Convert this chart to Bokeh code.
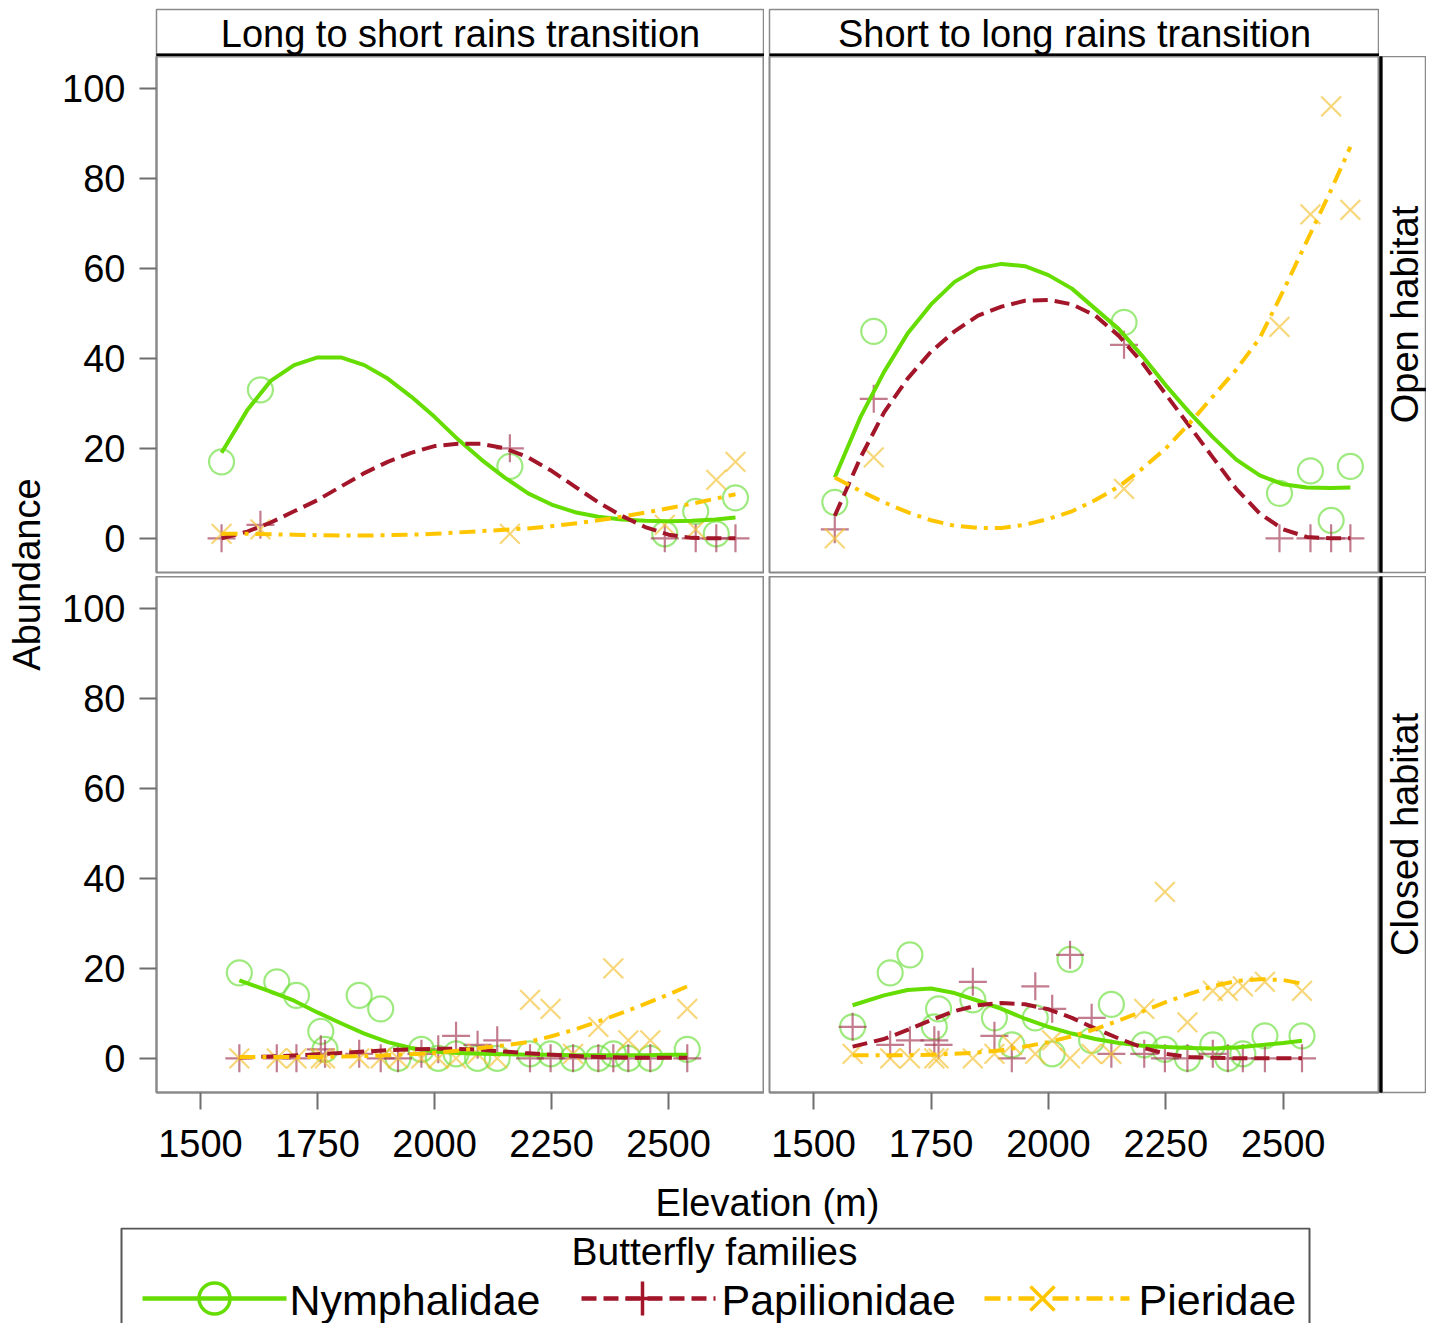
import math
from bokeh.plotting import figure
from bokeh.layouts import row, column
from bokeh.models import Range1d, FixedTicker, Label
from bokeh.embed import file_html
from bokeh.resources import INLINE

FONT = "Liberation Sans"

# ---------------- data ----------------
seasons = ["Long to short rains transition", "Short to long rains transition"]
habitats = ["Open habitat", "Closed habitat"]
families = ["Nymphalidae", "Papilionidae", "Pieridae"]
x_ticks = [1500, 1750, 2000, 2250, 2500]
y_ticks = [0, 20, 40, 60, 80, 100]

# sampling sites (elevation, m)
open_elev = [1545, 1628, 2161, 2492, 2558, 2602, 2643]
closed_elev = [1583, 1663, 1705, 1757, 1766, 1839, 1885, 1922, 1972, 2008, 2046,
               2092, 2134, 2204, 2248, 2296, 2350, 2382, 2414, 2461, 2540]

# observed abundances: open habitat
nym_open_ls = [17, 33, 16, 1, 6, 1, 9]
pap_open_ls = [0, 3, 20, 0, 0, 0, 0]
pie_open_ls = [1, 2, 1, 3, 2, 13, 17]
nym_open_sl = [8, 46, 48, 10, 15, 4, 16]
pap_open_sl = [2, 31, 43, 0, 0, 0, 0]
pie_open_sl = [0, 18, 11, 47, 72, 96, 73]

# observed abundances: closed habitat
nym_closed_ls = [19, 17, 14, 6, 2, 14, 11, 0, 2, 0, 1, 0, 0, 1, 1, 0, 0, 1, 0, 0, 2]
pap_closed_ls = [0, 0, 0, 2, 1, 1, 0, 0, 1, 2, 5, 3, 4, 0, 0, 0, 0, 0, 0, 0, 0]
pie_closed_ls = [0, 0, 0, 0, 0, 0, 0, 0, 0, 0, 0, 1, 0, 13, 11, 1, 7, 20, 4, 4, 11]
nym_closed_sl = [7, 19, 23, 7, 11, 13, 9, 3, 9, 1, 22, 4, 12, 3, 2, 0, 3, 0, 1, 5, 5]
pap_closed_sl = [7, 3, 4, 4, 3, 17, 5, 0, 16, 11, 23, 9, 1, 1, 0, 0, 1, 0, 0, 0, 0]
pie_closed_sl = [1, 0, 0, 0, 0, 0, 1, 3, 1, 4, 0, 1, 1, 11, 37, 8, 15, 15, 16, 17, 15]

# fitted curves
fit_open_x = [1545, 1600, 1650, 1700, 1750, 1800, 1850, 1900, 1950, 2000, 2050, 2100,
              2150, 2200, 2250, 2300, 2350, 2400, 2450, 2500, 2550, 2600, 2643]
nym_fit_open_ls = [19, 28.5, 35, 38.5, 40.2, 40.2, 38.5, 35.5, 31.5, 27, 22, 17.5,
                   13.5, 10, 7.5, 5.8, 4.8, 4.2, 3.9, 3.8, 3.9, 4.2, 4.6]
pap_fit_open_ls = [0, 1.5, 3.5, 6, 8.5, 11.5, 14.5, 17, 19, 20.5, 21, 21,
                   20, 18, 15, 11.5, 8, 5, 2.5, 0.8, 0.1, 0, 0]
pie_fit_open_ls = [1, 1, 0.9, 0.8, 0.7, 0.6, 0.6, 0.7, 0.8, 1, 1.3, 1.6,
                   1.9, 2.2, 2.7, 3.3, 4.0, 4.8, 5.7, 6.7, 7.7, 8.8, 9.8]
nym_fit_open_sl = [13.5, 27, 37, 45.5, 52, 57, 60, 61, 60.5, 58.5, 55.5, 51,
                   46.5, 40.5, 34, 28, 22.5, 17.5, 14, 12, 11.3, 11.2, 11.3]
pap_fit_open_sl = [5, 18, 28, 35.5, 41.5, 46, 49.5, 51.5, 52.8, 53, 52, 49.5,
                   45, 39, 32, 25, 18, 11, 5.5, 2, 0.3, 0, 0]
pie_fit_open_sl = [13.5, 10.5, 8, 5.8, 4, 2.8, 2.3, 2.3, 3, 4.3, 6, 8.5,
                   11.5, 15.5, 20, 25.5, 31.5, 37.5, 44.5, 55, 66, 77, 87]

fit_closed_x = [1583, 1650, 1700, 1750, 1800, 1850, 1900, 1950, 2000, 2050,
                2100, 2150, 2200, 2250, 2300, 2350, 2400, 2450, 2500, 2540]
nym_fit_closed_ls = [17.3, 14.8, 12.8, 10.2, 7.8, 5.5, 3.6, 2.3, 1.5, 1.2,
                     1, 0.9, 0.8, 0.8, 0.7, 0.7, 0.7, 0.7, 0.8, 0.8]
pap_fit_closed_ls = [0.2, 0.4, 0.6, 0.9, 1.2, 1.5, 1.8, 2, 2.1, 2.1,
                     1.9, 1.5, 1.1, 0.8, 0.5, 0.3, 0.2, 0.1, 0.1, 0.1]
pie_fit_closed_ls = [0.3, 0.3, 0.3, 0.3, 0.4, 0.5, 0.7, 0.9, 1.2, 1.7,
                     2.3, 2.9, 3.6, 4.9, 6.4, 8.2, 10.1, 12.1, 14.2, 16]
nym_fit_closed_sl = [11.8, 14, 15.2, 15.5, 14.5, 12.8, 11, 8.8, 7, 5.5,
                     4.3, 3.4, 2.8, 2.5, 2.3, 2.2, 2.4, 2.9, 3.4, 3.9]
pap_fit_closed_sl = [2.6, 4.3, 6.3, 8.5, 10.5, 11.8, 12.3, 12, 10.9, 9,
                     6.6, 4.4, 2.4, 1, 0.3, 0.1, 0, 0, 0, 0]
pie_fit_closed_sl = [0.7, 0.7, 0.7, 0.8, 1, 1.3, 1.8, 2.6, 3.6, 4.9,
                     6.5, 8.4, 10.4, 12.5, 14.3, 16, 17.2, 17.6, 17.4, 16.6]

# ---------------- styles ----------------
STY = {
    "Nymphalidae": dict(line="#66DD00", dash="solid", marker="circle", mcol="#6ADF3A", msize=25),
    "Papilionidae": dict(line="#A3162A", dash="15 7", marker="cross", mcol="#A23552", msize=28),
    "Pieridae": dict(line="#FFC600", dash="16 7 4 7", marker="x", mcol="#F3C232", msize=28),
}

panels = {
    (0, 0): (open_elev, [nym_open_ls, pap_open_ls, pie_open_ls], fit_open_x,
             [nym_fit_open_ls, pap_fit_open_ls, pie_fit_open_ls]),
    (0, 1): (open_elev, [nym_open_sl, pap_open_sl, pie_open_sl], fit_open_x,
             [nym_fit_open_sl, pap_fit_open_sl, pie_fit_open_sl]),
    (1, 0): (closed_elev, [nym_closed_ls, pap_closed_ls, pie_closed_ls], fit_closed_x,
             [nym_fit_closed_ls, pap_fit_closed_ls, pie_fit_closed_ls]),
    (1, 1): (closed_elev, [nym_closed_sl, pap_closed_sl, pie_closed_sl], fit_closed_x,
             [nym_fit_closed_sl, pap_fit_closed_sl, pie_fit_closed_sl]),
}

O = 1            # page origin observed in the browser
FRAME_GRAY = "#8a8a8a"
YLAB_W = 57
LEFT_PAD = 99
GAP = 5
FW = [608, 610]
FH = 516
XB = 84
STRIP_TOP = 9


def base_fig(**kw):
    p = figure(toolbar_location=None, output_backend="svg", **kw)
    p.grid.visible = False
    p.background_fill_color = "white"
    p.border_fill_color = "white"
    return p


def panel(h, s):
    left = s == 0
    bottom = h == 1
    p = base_fig(frame_width=FW[s], frame_height=FH,
                 x_range=Range1d(1406, 2705), y_range=Range1d(-7.6, 107.1),
                 x_axis_location="below" if bottom else None,
                 y_axis_location="left" if left else None,
                 min_border_left=LEFT_PAD if left else GAP, min_border_right=0,
                 min_border_top=0, min_border_bottom=XB if bottom else 4)
    p.outline_line_color = FRAME_GRAY
    p.outline_line_width = 2
    elev, obs, fx, fits = panels[(h, s)]
    for fam, ys in zip(families, obs):
        st = STY[fam]
        p.scatter(elev, ys, marker=st["marker"], size=st["msize"], fill_color=None,
                  line_color=st["mcol"], line_alpha=0.65, line_width=2.2)
    for fam, ys in zip(families, fits):
        st = STY[fam]
        p.line(fx, ys, line_color=st["line"], line_width=4, line_dash=st["dash"],
               line_join="round")
    axes = []
    if left:
        ax = p.yaxis[0]
        ax.ticker = FixedTicker(ticks=y_ticks)
        ax.major_label_standoff = 14
        axes.append(ax)
    if bottom:
        ax = p.xaxis[0]
        ax.ticker = FixedTicker(ticks=x_ticks)
        ax.major_label_standoff = 20
        axes.append(ax)
    for ax in axes:
        ax.major_tick_in = 0
        ax.major_tick_out = 17
        ax.minor_tick_line_color = None
        ax.major_tick_line_color = "#6f6f6f"
        ax.major_tick_line_width = 2
        ax.axis_line_color = FRAME_GRAY
        ax.axis_line_width = 2
        ax.major_label_text_font = FONT
        ax.major_label_text_font_size = "38px"
        ax.major_label_text_color = "black"
    return p


def strip_top(s):
    p = base_fig(frame_width=FW[s], frame_height=47,
                 x_range=Range1d(0, 1), y_range=Range1d(0, 47),
                 x_axis_location=None, y_axis_location=None,
                 min_border_left=LEFT_PAD if s == 0 else GAP, min_border_right=0,
                 min_border_top=STRIP_TOP, min_border_bottom=0)
    p.outline_line_color = FRAME_GRAY
    p.outline_line_width = 1.5
    p.quad(left=0, right=1, bottom=0, top=2.6, color="black")
    p.add_layout(Label(x=0.5, y=23, text=seasons[s], text_align="center",
                       text_baseline="middle", text_font=FONT, text_font_size="38px",
                       text_color="black"))
    return p


def strip_right(h):
    p = base_fig(frame_width=47, frame_height=FH,
                 x_range=Range1d(0, 47), y_range=Range1d(0, 1),
                 x_axis_location=None, y_axis_location=None,
                 min_border_left=0, min_border_right=0, min_border_top=0,
                 min_border_bottom=XB if h == 1 else 4)
    p.outline_line_color = FRAME_GRAY
    p.outline_line_width = 1.5
    p.quad(left=0, right=2.6, bottom=0, top=1, color="black")
    p.add_layout(Label(x=25, y=0.5, text=habitats[h], text_align="center",
                       text_baseline="middle", angle=math.pi / 2, text_font=FONT,
                       text_font_size="38px", text_color="black"))
    return p


strip_row = row(strip_top(0), strip_top(1))
top_row = row(panel(0, 0), panel(0, 1), strip_right(0))
bot_row = row(panel(1, 0), panel(1, 1), strip_right(1))
mid_col = column(strip_row, top_row, bot_row)

MID_H = (STRIP_TOP + 47) + (FH + 4) + (FH + XB)
ylab = base_fig(frame_width=YLAB_W, frame_height=MID_H, x_range=Range1d(O, O + YLAB_W),
                y_range=Range1d(O + MID_H, O), x_axis_location=None, y_axis_location=None,
                min_border=0)
ylab.outline_line_color = None
ylab.add_layout(Label(x=27, y=575, text="Abundance", angle=math.pi / 2,
                      text_align="center", text_baseline="middle", text_font=FONT,
                      text_font_size="38px", text_color="black"))

TOTAL_W = YLAB_W + LEFT_PAD + FW[0] + GAP + FW[1] + 47
y0 = O + MID_H
xlab = base_fig(frame_width=TOTAL_W, frame_height=1228 - y0, x_range=Range1d(O, O + TOTAL_W),
                y_range=Range1d(1228, y0), x_axis_location=None, y_axis_location=None,
                min_border=0)
xlab.outline_line_color = None
xlab.add_layout(Label(x=768, y=1203, text="Elevation (m)", text_align="center",
                      text_baseline="middle", text_font=FONT, text_font_size="38px",
                      text_color="black"))

# legend
leg = base_fig(frame_width=TOTAL_W, frame_height=100, x_range=Range1d(O, O + TOTAL_W),
               y_range=Range1d(1328, 1228), x_axis_location=None, y_axis_location=None,
               min_border=0)
leg.outline_line_color = None
leg.line([122, 122, 1310, 1310], [1345, 1229, 1229, 1345], line_color="#555555", line_width=2)
leg.add_layout(Label(x=715, y=1252, text="Butterfly families", text_align="center",
                     text_baseline="middle", text_font=FONT, text_font_size="39px",
                     text_color="black"))
leg_line_x0 = [143, 582, 985]
leg_line_x1 = [287, 716, 1130]
leg_mark_x = [215, 643, 1043]
leg_text_x = [290, 722, 1139]
LY = 1299
for i, fam in enumerate(families):
    st = STY[fam]
    leg.line([leg_line_x0[i], leg_line_x1[i]], [LY, LY], line_color=st["line"],
             line_width=4.5, line_dash=st["dash"])
    leg.scatter([leg_mark_x[i]], [LY], marker=st["marker"], size=st["msize"] + 6,
                fill_color=None, line_color=st["line"], line_width=3.5)
    leg.add_layout(Label(x=leg_text_x[i], y=LY + 1, text=fam, text_align="left",
                         text_baseline="middle", text_font=FONT, text_font_size="43px",
                         text_color="black"))

root = column(row(ylab, mid_col), xlab, leg)

open("out.html", "w").write(file_html(root, INLINE))
